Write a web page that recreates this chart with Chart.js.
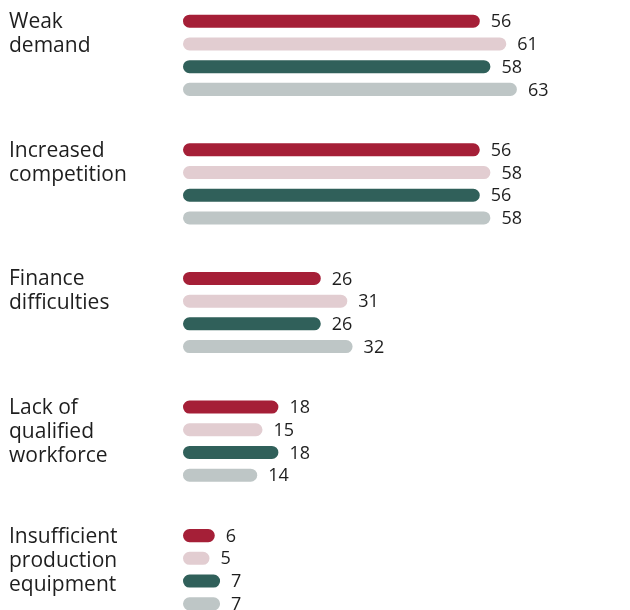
<!DOCTYPE html>
<html>
<head>
<meta charset="utf-8">
<script src="https://cdn.jsdelivr.net/npm/chart.js@4/dist/chart.umd.min.js"></script>
<style>
html,body{margin:0;padding:0;background:#fff;overflow:hidden;width:630px;height:610px;}
#wrap{position:absolute;left:0;top:-9px;width:630px;height:643px;}
</style>
</head>
<body>
<div id="wrap"><canvas id="c" width="630" height="643"></canvas></div>
<script>
const categories = [["Weak","demand"],["Increased","competition"],["Finance","difficulties"],["Lack of","qualified","workforce"],["Insufficient","production","equipment"]];
const series1 = [56, 56, 26, 18, 6];
const series2 = [61, 58, 31, 15, 5];
const series3 = [58, 56, 26, 18, 7];
const series4 = [63, 58, 32, 14, 7];
const colors = ["#a51f37", "#e2cdd1", "#30605a", "#bec6c6"];

const FONT = "'Open Sans', 'Noto Sans', sans-serif";

const labelPlugin = {
  id: 'labels',
  afterDatasetsDraw(chart) {
    const ctx = chart.ctx;
    ctx.save();
    ctx.fillStyle = '#1e1e1e';
    ctx.textBaseline = 'middle';
    ctx.font = '18px ' + FONT;
    ctx.textAlign = 'left';
    chart.data.datasets.forEach((ds, di) => {
      const meta = chart.getDatasetMeta(di);
      meta.data.forEach((bar, i) => {
        ctx.fillText(String(ds.data[i]), bar.x + 11, bar.y + 1);
      });
    });
    ctx.font = '21px ' + FONT;
    const meta0 = chart.getDatasetMeta(0);
    chart.data.labels.forEach((lab, i) => {
      const y0 = meta0.data[i].y;
      lab.forEach((line, j) => {
        ctx.fillText(line, 9, y0 + 1 + j * 24);
      });
    });
    ctx.restore();
  }
};

new Chart(document.getElementById('c'), {
  type: 'bar',
  data: {
    labels: categories,
    datasets: [series1, series2, series3, series4].map((d, i) => ({
      data: d,
      backgroundColor: colors[i],
      borderRadius: 8,
      borderSkipped: false,
      categoryPercentage: 0.7066,
      barPercentage: 0.573
    }))
  },
  options: {
    indexAxis: 'y',
    responsive: false,
    animation: false,
    devicePixelRatio: 1,
    layout: { padding: { left: 183, right: 23, top: 0, bottom: 0 } },
    plugins: { legend: { display: false }, tooltip: { enabled: false } },
    scales: {
      x: { display: false, min: 0, max: 80 },
      y: { display: false }
    }
  },
  plugins: [labelPlugin]
});
</script>
</body>
</html>
